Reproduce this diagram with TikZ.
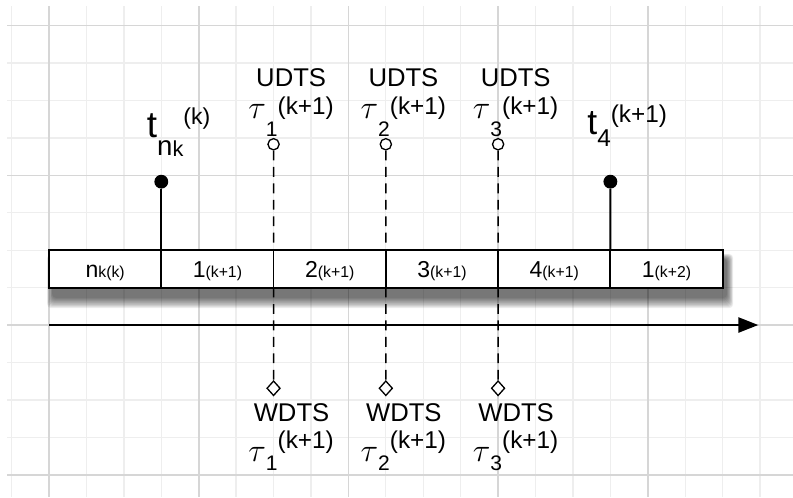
\documentclass[tikz,border=0pt]{standalone}
\usepackage{fontspec}
\setmainfont{Liberation Sans}
\usepackage{tikz}
\usetikzlibrary{arrows.meta,positioning,shapes.geometric}

\newcommand{\fs}[2]{{\fontsize{#1}{#1}\selectfont #2}}
\newcommand{\taulbl}[2]{\raisebox{#2}{\fs{26}{$\tau$}}\raisebox{-17pt}{\fs{16}{#1}}\fs{18.5}{(k+1)}}

\begin{document}
\begin{tikzpicture}[
    x=1cm, y=1cm,
    minor/.style={gray!13, line width=1pt},
    major/.style={gray!32, line width=1.2pt},
    cell/.style={draw, fill=white, line width=1.4pt, minimum width=3cm, minimum height=1cm,
      inner sep=0pt, outer sep=0pt, text height=15pt, text depth=2pt},
    axis/.style={line width=1.4pt, -{Triangle[length=15pt, width=11.5pt]}},
    stem/.style={line width=1.4pt},
    dashline/.style={line width=1.2pt, dash pattern=on 7.5pt off 5pt},
    fulldot/.style={circle, fill=black, inner sep=0pt, minimum size=0.37cm},
    opendot/.style={circle, draw, fill=white, line width=1pt, inner sep=0pt, minimum size=0.3cm},
    wdot/.style={diamond, draw, fill=white, line width=1pt, inner sep=0pt,
      minimum width=0.36cm, minimum height=0.4cm},
    tag/.style={font=\fontsize{19.5}{19.5}\selectfont, inner sep=0pt},
    lbl/.style={inner sep=0pt, anchor=base west}
  ]
  \useasboundingbox (-1.31,-4.6) rectangle (19.88,8.685);
  \fill[white] (-1.31,-4.6) rectangle (19.88,8.685);

  % Grid
  \foreach \x in {-1,...,19} \draw[minor] (\x,8.52) -- (\x,-4.6);
  \foreach \y in {-4,...,8} \draw[minor] (-1.12,\y) -- (19.88,\y);
  \foreach \x in {0,4,...,16} \draw[major] (\x,8.52) -- (\x,-4.6);
  \foreach \y in {-4,0,4,8} \draw[major] (-1.12,\y) -- (19.88,\y);

  % Shadow under the slot strip
  \foreach \i in {1,...,10} {
    \pgfmathsetmacro\s{0.03*\i}
    \fill[black, opacity=0.07, rounded corners=3pt] (0.1-0.5*\s,0.75-\s) rectangle (18.1+0.6*\s,1.75+0.5*\s);
  }

  % Nodes
  \node[cell] (c0) at (1.5,1.5) {\fs{17.5}{n}\fs{12}{k(k)}};
  \node[cell, right=0pt of c0] (c1) {\fs{17.5}{1}\fs{12}{(k+1)}};
  \node[cell, right=0pt of c1] (c2) {\fs{17.5}{2}\fs{12}{(k+1)}};
  \node[cell, right=0pt of c2] (c3) {\fs{17.5}{3}\fs{12}{(k+1)}};
  \node[cell, right=0pt of c3] (c4) {\fs{17.5}{4}\fs{12}{(k+1)}};
  \node[cell, right=0pt of c4] (c5) {\fs{17.5}{1}\fs{12}{(k+2)}};

  \coordinate (ax0) at (0,0);
  \coordinate (ax1) at (18.95,0);

  \node[fulldot] (d0) at (3,3.83) {};
  \node[fulldot] (d4) at (15,3.83) {};
  \node[lbl] (tn) at (2.61,5.37) {\raisebox{-10pt}{\fs{28}{t}}\raisebox{-23.6pt}{\fs{21}{n}}\raisebox{-25pt}{\fs{16.5}{k}}\fs{17.5}{(k)}};
  \node[lbl] (t4) at (14.38,5.40) {\raisebox{-9pt}{\fs{27}{t}}\raisebox{-18pt}{\fs{18.5}{4}}\fs{18.5}{(k+1)}};

  \foreach \i/\x in {1/6,2/9,3/12} {
    \node[opendot] (u\i) at (\x,4.83) {};
    \node[wdot] (w\i) at (\x,-1.69) {};
    \node[tag] (ut\i) at (\x+0.47,6.61) {UDTS};
    \node[lbl] (ul\i) at (\x-0.68,5.625) {\taulbl{\i}{-3pt}};
    \node[tag] (wt\i) at (\x+0.48,-2.35) {WDTS};
    \node[lbl] (wl\i) at (\x-0.68,-3.30) {\taulbl{\i}{-10pt}};
  }

  % Arrows
  \draw[axis] (ax0) -- (ax1);
  \draw[stem] (d0) -- (c0.north east);
  \draw[stem] (d4) -- (c4.north east);
  \foreach \i in {1,2,3} {
    \draw[dashline] (u\i) -- (c\i.north east);
    \draw[dashline] (c\i.south east) -- (w\i);
  }
\end{tikzpicture}
\end{document}
